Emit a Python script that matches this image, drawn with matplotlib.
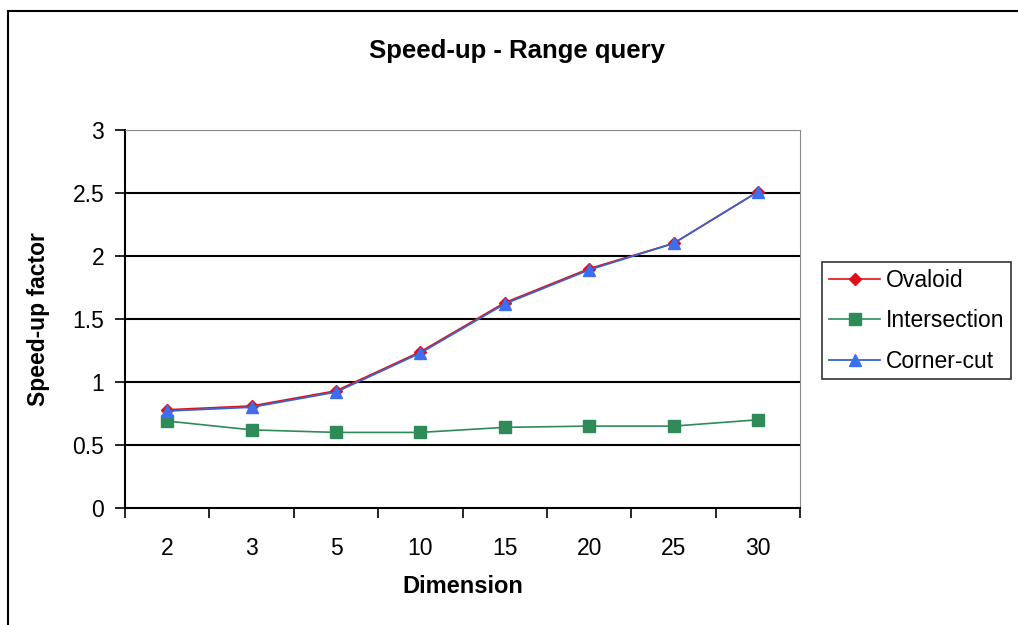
import matplotlib.pyplot as plt
from matplotlib.patches import Rectangle

plt.rcParams['font.family'] = ['Liberation Sans', 'DejaVu Sans']

dimensions = ['2', '3', '5', '10', '15', '20', '25', '30']
ovaloid = [0.78, 0.81, 0.93, 1.24, 1.63, 1.90, 2.10, 2.51]
intersection = [0.69, 0.62, 0.60, 0.60, 0.64, 0.65, 0.65, 0.70]
corner_cut = [0.77, 0.80, 0.92, 1.23, 1.62, 1.89, 2.10, 2.51]

fig = plt.figure(figsize=(10.18, 6.25), dpi=100)
ax = fig.add_axes([0.1228, 0.1872, 0.6632, 0.6048])

x = list(range(len(dimensions)))
ax.plot(x, ovaloid, color='#e0101a', marker='D', markersize=6, lw=1.2, label='Ovaloid', zorder=3)
ax.plot(x, intersection, color='#2e8b57', marker='s', markersize=8, lw=1.2, label='Intersection', zorder=3)
ax.plot(x, corner_cut, color='#3a62c8', marker='^', markersize=9, lw=1.3, label='Corner-cut', zorder=4,
        markerfacecolor='#3d6ef0', markeredgecolor='#3d6ef0')

ax.set_xlim(-0.5, len(dimensions) - 0.5)
ax.set_ylim(0, 3)
ax.set_yticks([0, 0.5, 1, 1.5, 2, 2.5, 3])
ax.set_yticklabels(['0', '0.5', '1', '1.5', '2', '2.5', '3'])
ax.set_xticks(x)
ax.set_xticklabels(dimensions)
ax.set_xticks([i - 0.5 for i in range(len(dimensions) + 1)], minor=True)
ax.tick_params(axis='x', which='major', length=0, labelsize=16.5, pad=21)
ax.tick_params(axis='x', which='minor', length=7, width=1.2, direction='out')
ax.tick_params(axis='y', length=7, width=1.2, direction='out', labelsize=16.5, pad=8)

for y in [0.5, 1, 1.5, 2, 2.5]:
    ax.axhline(y, color='black', lw=1.5, zorder=1)

ax.spines['left'].set_color('black')
ax.spines['left'].set_linewidth(1.5)
ax.spines['bottom'].set_color('black')
ax.spines['bottom'].set_linewidth(1.5)
ax.spines['top'].set_color('#888888')
ax.spines['right'].set_color('#888888')

ax.set_xlabel('Dimension', fontsize=17, fontweight='bold', labelpad=11)
ax.set_ylabel('Speed-up factor', fontsize=16.5, fontweight='bold', labelpad=16)
fig.text(0.508, 0.918, 'Speed-up - Range query', ha='center', va='center',
         fontsize=18.5, fontweight='bold')

leg = ax.legend(loc='center left', bbox_to_anchor=(1.033, 0.495), fontsize=16.5,
                frameon=True, fancybox=False, edgecolor='black', handlelength=2.2,
                handletextpad=0.25, borderpad=0.3, labelspacing=0.75, borderaxespad=0)
leg.get_frame().set_linewidth(1.2)

fig.patches.append(Rectangle((8 / 1018, -0.01), 1.02, 1 - 11 / 625 + 0.01,
                             transform=fig.transFigure, fill=False,
                             edgecolor='black', lw=1.5))

fig.savefig('out.png', dpi=100)
